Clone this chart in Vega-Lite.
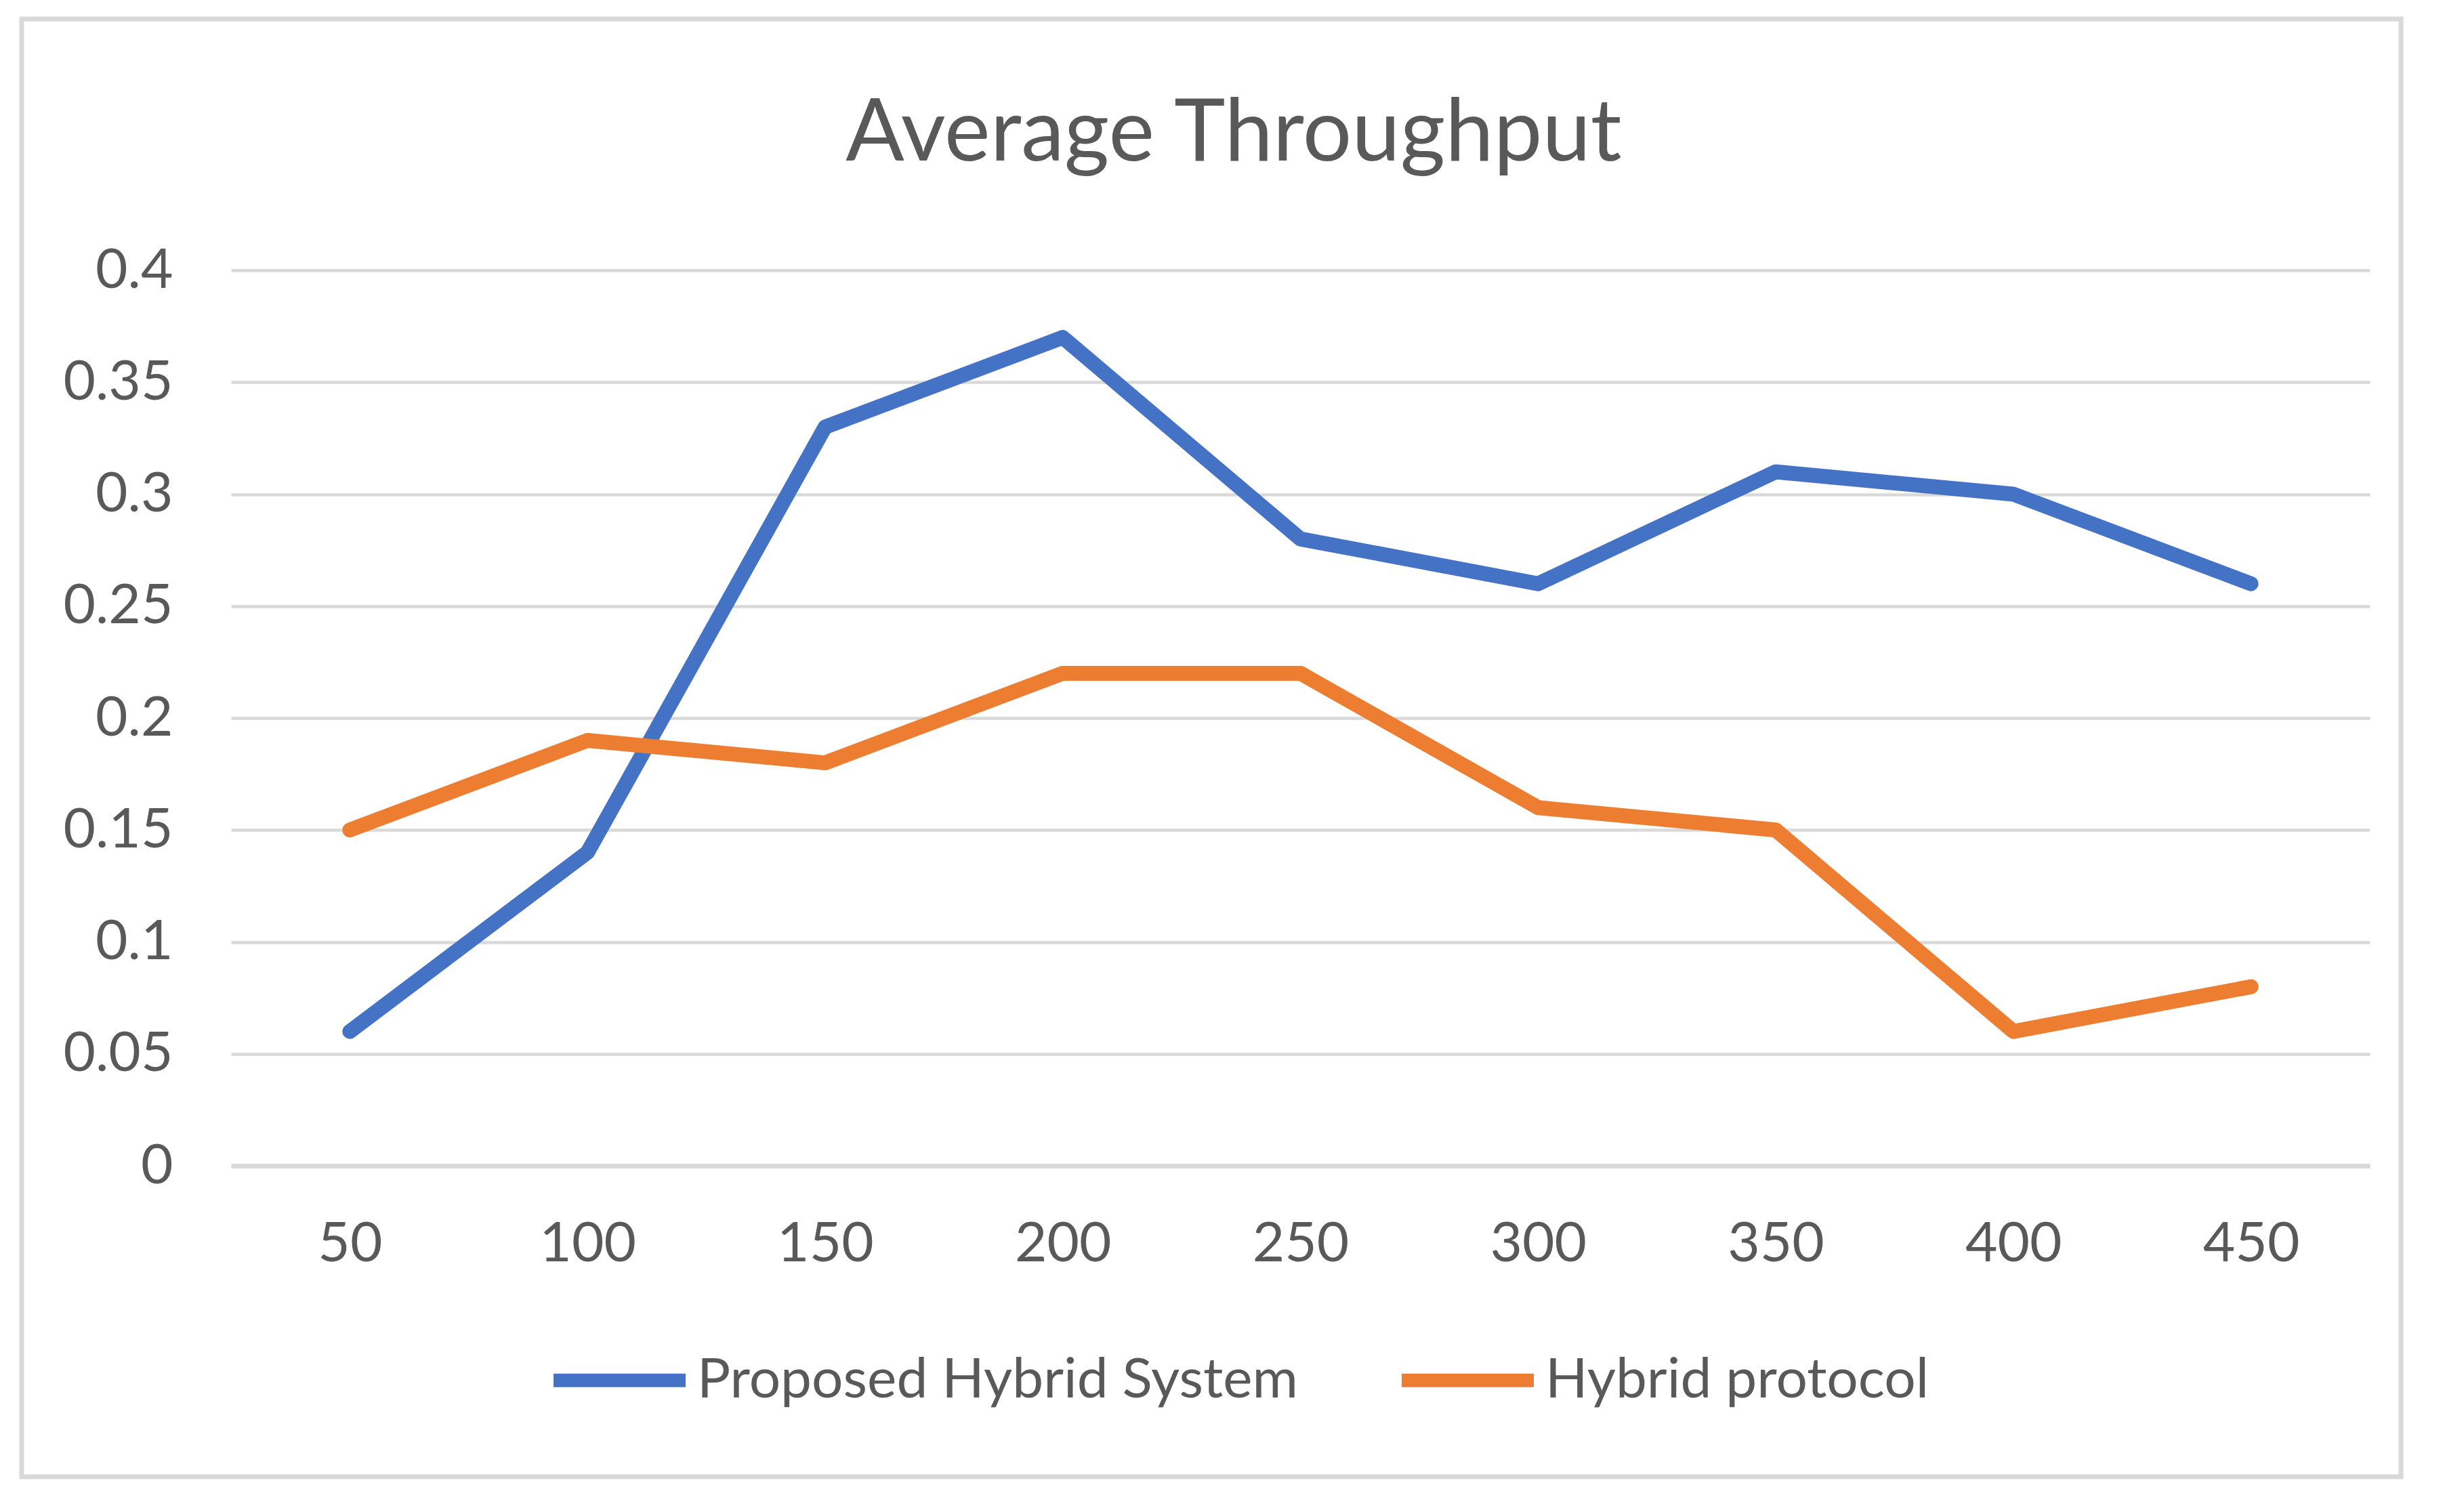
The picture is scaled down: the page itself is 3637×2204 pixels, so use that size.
{
  "$schema": "https://vega.github.io/schema/vega-lite/v6.json",
  "autosize": {"type": "none"},
  "width": 3512,
  "height": 2152,
  "padding": {"left": 32, "top": 28, "right": 93, "bottom": 24},
  "background": "#ffffff",
  "config": {
    "view": {"stroke": "#d9d9d9", "strokeWidth": 7, "fill": "#ffffff"},
    "font": "Lato"
  },
  "title": {
    "text": "Average Throughput",
    "fontSize": 128,
    "font": "Lato",
    "fontWeight": "normal",
    "color": "#595959",
    "anchor": "middle",
    "frame": "group",
    "baseline": "alphabetic",
    "offset": -337,
    "dx": 33
  },
  "data": {
    "values": [
      {"x": 50, "series": "Proposed Hybrid System", "v": 0.06},
      {"x": 100, "series": "Proposed Hybrid System", "v": 0.14},
      {"x": 150, "series": "Proposed Hybrid System", "v": 0.33},
      {"x": 200, "series": "Proposed Hybrid System", "v": 0.37},
      {"x": 250, "series": "Proposed Hybrid System", "v": 0.28},
      {"x": 300, "series": "Proposed Hybrid System", "v": 0.26},
      {"x": 350, "series": "Proposed Hybrid System", "v": 0.31},
      {"x": 400, "series": "Proposed Hybrid System", "v": 0.30},
      {"x": 450, "series": "Proposed Hybrid System", "v": 0.26},
      {"x": 50, "series": "Hybrid protocol", "v": 0.15},
      {"x": 100, "series": "Hybrid protocol", "v": 0.19},
      {"x": 150, "series": "Hybrid protocol", "v": 0.18},
      {"x": 200, "series": "Hybrid protocol", "v": 0.22},
      {"x": 250, "series": "Hybrid protocol", "v": 0.22},
      {"x": 300, "series": "Hybrid protocol", "v": 0.16},
      {"x": 350, "series": "Hybrid protocol", "v": 0.15},
      {"x": 400, "series": "Hybrid protocol", "v": 0.06},
      {"x": 450, "series": "Hybrid protocol", "v": 0.08}
    ]
  },
  "mark": {"type": "line", "strokeWidth": 22, "strokeJoin": "round", "strokeCap": "round"},
  "encoding": {
    "x": {
      "field": "x",
      "type": "ordinal",
      "sort": "ascending",
      "scale": {"type": "point", "padding": 0.5, "range": [309, 3466]},
      "axis": {
        "orient": "bottom",
        "offset": -459,
        "title": null,
        "labelAngle": 0,
        "labelFont": "Lato",
        "labelFontSize": 82,
        "labelColor": "#595959",
        "labelPadding": 75,
        "ticks": false,
        "tickSize": 0,
        "grid": false,
        "domain": true,
        "domainColor": "#d9d9d9",
        "domainWidth": 7
      }
    },
    "y": {
      "field": "v",
      "type": "quantitative",
      "scale": {"domain": [0, 0.4], "nice": false, "zero": true, "range": [1693, 371]},
      "axis": {
        "orient": "left",
        "offset": -309,
        "title": null,
        "values": [0, 0.05, 0.1, 0.15, 0.2, 0.25, 0.3, 0.35, 0.4],
        "format": "~g",
        "labelFont": "Lato",
        "labelFontSize": 82,
        "labelColor": "#595959",
        "labelPadding": 86,
        "ticks": false,
        "tickSize": 0,
        "domain": false,
        "grid": true,
        "gridColor": "#d9d9d9",
        "gridWidth": 4.5
      }
    },
    "color": {
      "field": "series",
      "type": "nominal",
      "sort": ["Proposed Hybrid System", "Hybrid protocol"],
      "scale": {"domain": ["Proposed Hybrid System", "Hybrid protocol"], "range": ["#4472C4", "#ED7D31"]},
      "legend": {
        "orient": "none",
        "legendX": 775,
        "legendY": 1902,
        "direction": "horizontal",
        "title": null,
        "symbolType": "stroke",
        "symbolSize": 38025,
        "symbolStrokeWidth": 20,
        "labelFont": "Lato",
        "labelFontSize": 82,
        "labelColor": "#595959",
        "labelOffset": 7,
        "labelLimit": 3000,
        "columnPadding": 113,
        "padding": 0
      }
    }
  }
}
